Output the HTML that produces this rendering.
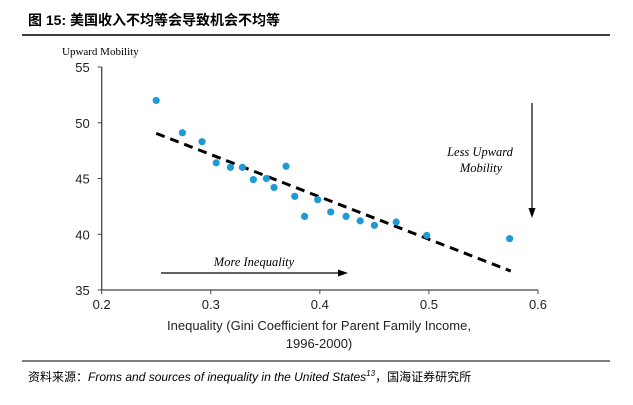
<!DOCTYPE html>
<html><head><meta charset="utf-8"><style>
body{margin:0;background:#fff;width:633px;height:400px;overflow:hidden;font-family:"Liberation Sans","Noto Sans CJK SC",sans-serif}
</style></head><body>
<svg width="633" height="400">
<text x="28" y="25" font-size="14" font-weight="bold" font-family="'Liberation Sans','Noto Sans CJK SC',sans-serif">图 15:  美国收入不均等会导致机会不均等</text>
<line x1="22" y1="35" x2="610" y2="35" stroke="#000" stroke-width="1.6"/>
<text x="62" y="55" font-size="11" font-family="'Liberation Serif',serif">Upward Mobility</text>
<g id="axes"></g>
<g id="marks"></g>
<text x="319" y="330" font-size="13" text-anchor="middle" fill="#222">Inequality (Gini Coefficient for Parent Family Income,</text>
<text x="319" y="348" font-size="13" text-anchor="middle" fill="#222">1996-2000)</text>
<text x="254" y="266" font-size="12.5" font-style="italic" text-anchor="middle" font-family="'Liberation Serif',serif">More Inequality</text>
<line x1="161" y1="273" x2="340" y2="273" stroke="#000" stroke-width="1.2"/>
<polygon points="348,273 338,269.5 338,276.5" fill="#000"/>
<text x="480" y="156" font-size="12.5" font-style="italic" text-anchor="middle" font-family="'Liberation Serif',serif">Less Upward</text>
<text x="481" y="172" font-size="12.5" font-style="italic" text-anchor="middle" font-family="'Liberation Serif',serif">Mobility</text>
<line x1="532" y1="103" x2="532" y2="210" stroke="#000" stroke-width="1.2"/>
<polygon points="532,218 528.5,208 535.5,208" fill="#000"/>
<line x1="22" y1="361" x2="610" y2="361" stroke="#000" stroke-width="1"/>
<text x="28" y="381" font-size="12">资料来源：<tspan font-style="italic">Froms and sources of inequality in the United States</tspan><tspan font-size="8" dy="-5" font-style="italic">13</tspan><tspan dy="5">，国海证券研究所</tspan></text>
</svg>
<script>
const xTicks=[0.2,0.3,0.4,0.5,0.6];
const yTicks=[35,40,45,50,55];
const giniValues=[0.25,0.274,0.292,0.305,0.318,0.329,0.339,0.351,0.358,0.369,0.377,0.386,0.398,0.41,0.424,0.437,0.45,0.47,0.498,0.574];
const mobilityValues=[52,49.1,48.3,46.4,46,46,44.9,45,44.2,46.1,43.4,41.6,43.1,42,41.6,41.2,40.8,41.1,39.9,39.6];
const trendX=[0.25,0.575];
const trendY=[49.05,36.7];
const NS="http://www.w3.org/2000/svg";
const X0=101.7,X1=538,Y0=290,Y1=67;
const sx=v=>X0+(v-0.2)/0.4*(X1-X0);
const sy=v=>Y0-(v-35)/20*(Y0-Y1);
function mk(t,a,p){const e=document.createElementNS(NS,t);for(const k in a)e.setAttribute(k,a[k]);p.appendChild(e);return e;}
const ax=document.getElementById('axes'),mg=document.getElementById('marks');
let l=mk('line',{x1:X0,y1:Y0,x2:X1,y2:Y0,stroke:'#444','stroke-width':1.3},ax);


l=mk('line',{x1:X0,y1:Y0,x2:X0,y2:Y1,stroke:'#444','stroke-width':1.3},ax);


xTicks.forEach(v=>{mk('line',{x1:sx(v),y1:Y0,x2:sx(v),y2:Y0+4,stroke:'#444'},ax);
const t=mk('text',{x:sx(v),y:Y0+19,'font-size':13,'text-anchor':'middle',fill:'#222'},ax);t.textContent=v.toFixed(1);

});
yTicks.forEach(v=>{mk('line',{x1:X0-4,y1:sy(v),x2:X0,y2:sy(v),stroke:'#444'},ax);
const t=mk('text',{x:X0-12,y:sy(v)+5,'font-size':13,'text-anchor':'end',fill:'#222'},ax);t.textContent=v;

});
const tr=mk('line',{x1:sx(trendX[0]),y1:sy(trendY[0]),x2:sx(trendX[1]),y2:sy(trendY[1]),stroke:'#000','stroke-width':3,'stroke-dasharray':'9,6'},mg);


giniValues.forEach((g,i)=>{const c=mk('circle',{cx:sx(g),cy:sy(mobilityValues[i]),r:3.6,fill:'#1e9ad6'},mg);

});
</script>
</body></html>
